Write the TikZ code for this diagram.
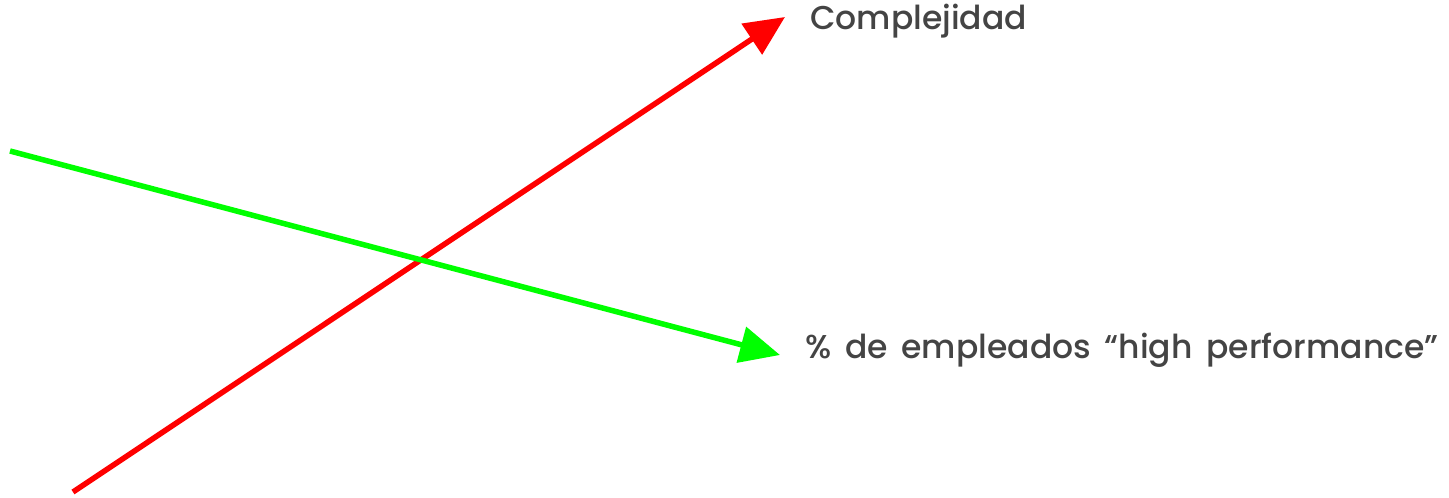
\documentclass[tikz,border=0pt]{standalone}
\usepackage{fontspec}
\setmainfont{Poppins Medium}
\newfontfamily\widefont{Poppins Medium}[WordSpace=1.6]
\usetikzlibrary{arrows.meta}
\definecolor{txt}{HTML}{444444}
\definecolor{redl}{HTML}{FF0000}
\definecolor{greenl}{HTML}{00FF00}
\begin{document}
\begin{tikzpicture}[x=1pt,y=-1pt,
  axisarrow/.style={line width=5.5pt,-{Triangle[length=40pt,width=36pt]}},
  lbl/.style={text=txt,anchor=west,inner sep=0pt,font=\fontsize{33}{39}\selectfont}]
\useasboundingbox (0,0) rectangle (1449,498);
\coordinate (rs) at (73,492);
\coordinate (re) at (785,17);
\coordinate (gs) at (10,151);
\coordinate (ge) at (780,355);
\draw[axisarrow,draw=redl,fill=redl] (rs) -- (re);
\draw[axisarrow,draw=greenl,fill=greenl] (gs) -- (ge);
\node[lbl] (c) at (810,21) {Complejidad};
\node[lbl,font=\widefont\fontsize{33}{39}\selectfont] (h) at (805,350) {\% de empleados “high performance”};
\end{tikzpicture}
\end{document}
